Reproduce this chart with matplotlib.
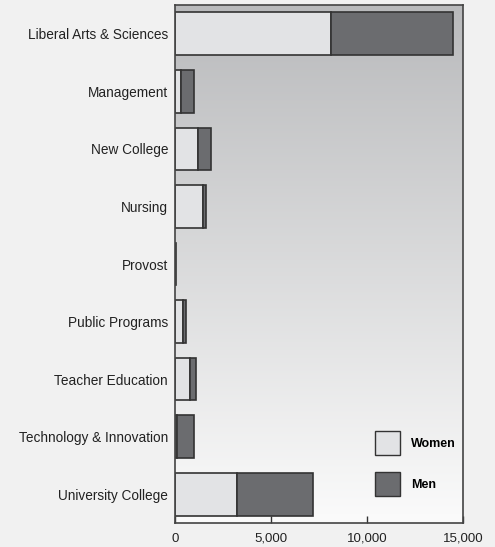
import numpy as np
import matplotlib
matplotlib.use('Agg')
import matplotlib.pyplot as plt
from matplotlib.patches import Patch

colleges = ['Liberal Arts & Sciences', 'Management', 'New College', 'Nursing', 'Provost',
            'Public Programs', 'Teacher Education', 'Technology & Innovation', 'University College']
women = [8130, 300, 1205, 1435, 10, 420, 800, 120, 3250]
men = [6335, 715, 645, 190, 60, 155, 280, 860, 3940]
xticks = [0, 5000, 10000, 15000]
xtick_labels = ['0', '5,000', '10,000', '15,000']

plt.rcParams['font.family'] = ['Liberation Sans', 'DejaVu Sans']

fig = plt.figure(figsize=(4.95, 5.47), dpi=100, facecolor='#f1f1f1')
ax = fig.add_axes([175 / 495, 1 - 523 / 547, 288 / 495, 518 / 547])

# gradient background
grad = np.linspace(0, 1, 256).reshape(-1, 1)
cmap = matplotlib.colors.LinearSegmentedColormap.from_list('bg', ['#b9babc', '#fbfbfb'])
ax.imshow(grad, aspect='auto', cmap=cmap, extent=[0, 1, 0, 1], transform=ax.transAxes,
          origin='upper', zorder=0)

y = np.arange(len(colleges))
ax.barh(y, women, height=0.74, color='#e2e3e5', edgecolor='#333333', linewidth=1.2, zorder=2)
ax.barh(y, men, left=women, height=0.74, color='#6b6c6f', edgecolor='#333333', linewidth=1.2, zorder=2)

ax.set_xlim(0, 15000)
ax.set_ylim(8.5, -0.5)
ax.set_yticks(y)
ax.set_yticklabels(colleges, fontsize=9.8, color='#222222')
ax.tick_params(axis='y', length=0, pad=5)
ax.set_xticks(xticks)
ax.set_xticklabels(xtick_labels, fontsize=9.5, color='#222222')
ax.tick_params(axis='x', direction='in', length=5, width=1, color='#333333', pad=7)
for s in ax.spines.values():
    s.set_color('#444444')
    s.set_linewidth(1.2)

handles = [Patch(facecolor='#e2e3e5', edgecolor='#333333', label='Women'),
           Patch(facecolor='#6b6c6f', edgecolor='#333333', label='Men')]
leg = ax.legend(handles=handles, loc='lower right', frameon=False, handlelength=2.0,
                handleheight=2.6, labelspacing=1.35, handletextpad=0.9,
                prop={'weight': 'bold', 'size': 9}, bbox_to_anchor=(1.015, 0.03))

fig.savefig('out.png', dpi=100, facecolor=fig.get_facecolor())
